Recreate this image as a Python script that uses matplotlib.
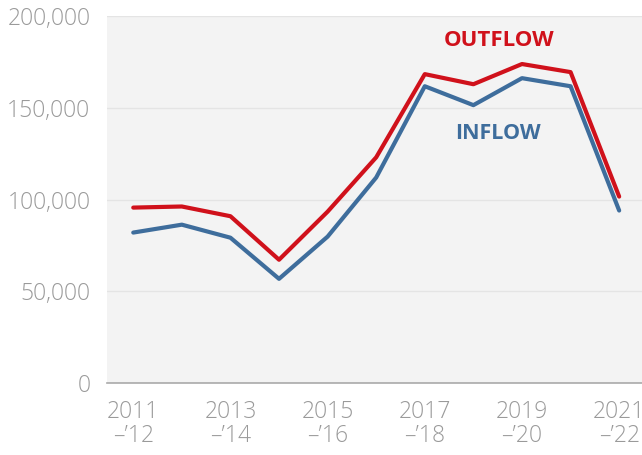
import matplotlib.pyplot as plt

years = ["2011\n\u2013\u201912", "2012\n\u2013\u201913", "2013\n\u2013\u201914", "2014\n\u2013\u201915",
         "2015\n\u2013\u201916", "2016\n\u2013\u201917", "2017\n\u2013\u201918", "2018\n\u2013\u201919",
         "2019\n\u2013\u201920", "2020\n\u2013\u201921", "2021\n\u2013\u201922"]
outflow = [95600, 96200, 90900, 67200, 93400, 123000, 168300, 162800, 173800, 169400, 101600]
inflow = [82000, 86300, 79200, 56800, 79800, 112000, 161700, 151400, 166100, 161700, 94000]

RED = "#D0111B"
BLUE = "#3E6D9C"
GRAY = "#9A9A9A"

plt.rcParams["font.family"] = ["Open Sans", "DejaVu Sans"]

fig = plt.figure(figsize=(6.42, 4.55), dpi=100)
ax = fig.add_axes([0.1667, 0.158, 0.8333, 0.807])
ax.set_facecolor("#F3F3F3")

x = list(range(len(years)))
ax.plot(x, inflow, color=BLUE, lw=3, solid_capstyle="round", zorder=3)
ax.plot(x, outflow, color=RED, lw=3, solid_capstyle="round", zorder=4)

ax.text(7.53, 186500, "OUTFLOW", color=RED, fontsize=16, fontweight="bold",
        ha="center", va="center")
ax.text(7.5, 136000, "INFLOW", color=BLUE, fontsize=15.5, fontweight="bold",
        ha="center", va="center")

ax.set_xlim(-0.54, 10.47)
ax.set_ylim(0, 200000)
ax.set_yticks([0, 50000, 100000, 150000, 200000])
ax.set_yticklabels([f"{v:,}" for v in [0, 50000, 100000, 150000, 200000]])
ax.set_xticks(x[::2])
ax.set_xticklabels(years[::2], linespacing=1.0)

ax.grid(axis="y", color="#E4E4E4", lw=1)
ax.set_axisbelow(True)
for s in ["top", "right", "left"]:
    ax.spines[s].set_visible(False)
ax.spines["bottom"].set_color("#AAAAAA")
ax.spines["bottom"].set_linewidth(1.2)

ax.tick_params(axis="both", length=0, labelcolor=GRAY, labelsize=16.5)
ax.tick_params(axis="y", pad=12)
ax.tick_params(axis="x", pad=12)
for lbl in ax.get_xticklabels() + ax.get_yticklabels():
    lbl.set_fontweight("light")

fig.savefig("out.png", dpi=100)
